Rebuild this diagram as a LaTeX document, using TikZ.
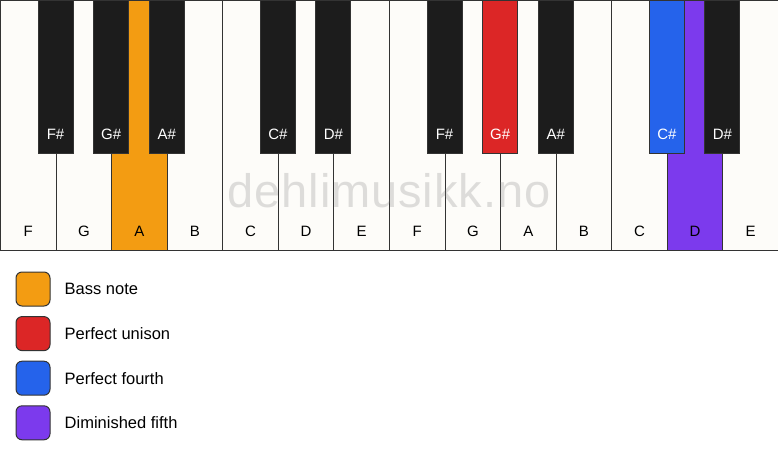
\documentclass[tikz,border=0pt]{standalone}
\usepackage{fontspec}
\setmainfont{Liberation Sans}
\usetikzlibrary{positioning}

\definecolor{keywhite}{HTML}{FDFCF9}
\definecolor{keyblack}{HTML}{1C1C1C}
\definecolor{keyline}{HTML}{333333}
\definecolor{bass}{HTML}{F39C12}
\definecolor{unison}{HTML}{DC2626}
\definecolor{fourth}{HTML}{2563EB}
\definecolor{dimfifth}{HTML}{7C3AED}

\begin{document}
\begin{tikzpicture}[
    x=1pt, y=1pt,
    whitekey/.style={draw=keyline, line width=1pt, inner sep=0pt,
        minimum width=55.57pt, minimum height=250pt, anchor=north west},
    blackkey/.style={draw=keyline, line width=1pt, inner sep=0pt,
        minimum width=35pt, minimum height=153pt, anchor=north},
    keyname/.style={font=\fontsize{15}{15}\selectfont, inner sep=0pt},
    swatch/.style={draw=keyline, line width=1pt, rounded corners=6pt,
        minimum size=34pt, inner sep=0pt},
    legendtext/.style={font=\fontsize{16.5}{16.5}\selectfont, inner sep=0pt, anchor=west}
]

\useasboundingbox (0,0) rectangle (778,-461);

% white keys
\foreach \n/\c [count=\i from 0] in {F/keywhite, G/keywhite, A/bass, B/keywhite,
    C/keywhite, D/keywhite, E/keywhite, F/keywhite, G/keywhite, A/keywhite,
    B/keywhite, C/keywhite, D/dimfifth, E/keywhite}
{
    \node[whitekey, fill=\c] (w\i) at (\i*55.57,0) {};
    \node[keyname] (wn\i) at ([yshift=20pt]w\i.south) {\n};
}

% black keys
\foreach \n/\b/\c/\t in {F/1/keyblack/white, G/2/keyblack/white, A/3/keyblack/white,
    C/5/keyblack/white, D/6/keyblack/white, F/8/keyblack/white, G/9/unison/white,
    A/10/keyblack/white, C/12/fourth/white, D/13/keyblack/white}
{
    \node[blackkey, fill=\c] (b\b) at (\b*55.57,0) {};
    \node[keyname, text=\t] (bn\b) at ([yshift=20pt]b\b.south) {\n\#};
}

% watermark
\node[font=\fontsize{47}{47}\selectfont\addfontfeatures{LetterSpace=2}, text=gray,
    text opacity=0.25, inner sep=0pt, anchor=base] (mark) at (389,-207) {dehlimusikk.no};

% legend
\node[swatch, fill=bass] (sw1) at (33,-289) {};
\node[swatch, fill=unison] (sw2) [below=9.6pt of sw1] {};
\node[swatch, fill=fourth] (sw3) [below=9.6pt of sw2] {};
\node[swatch, fill=dimfifth] (sw4) [below=9.6pt of sw3] {};

\node[legendtext] (lt1) [right=14pt of sw1] {Bass note};
\node[legendtext] (lt2) [right=14pt of sw2] {Perfect unison};
\node[legendtext] (lt3) [right=14pt of sw3] {Perfect fourth};
\node[legendtext] (lt4) [right=14pt of sw4] {Diminished fifth};

\end{tikzpicture}
\end{document}
